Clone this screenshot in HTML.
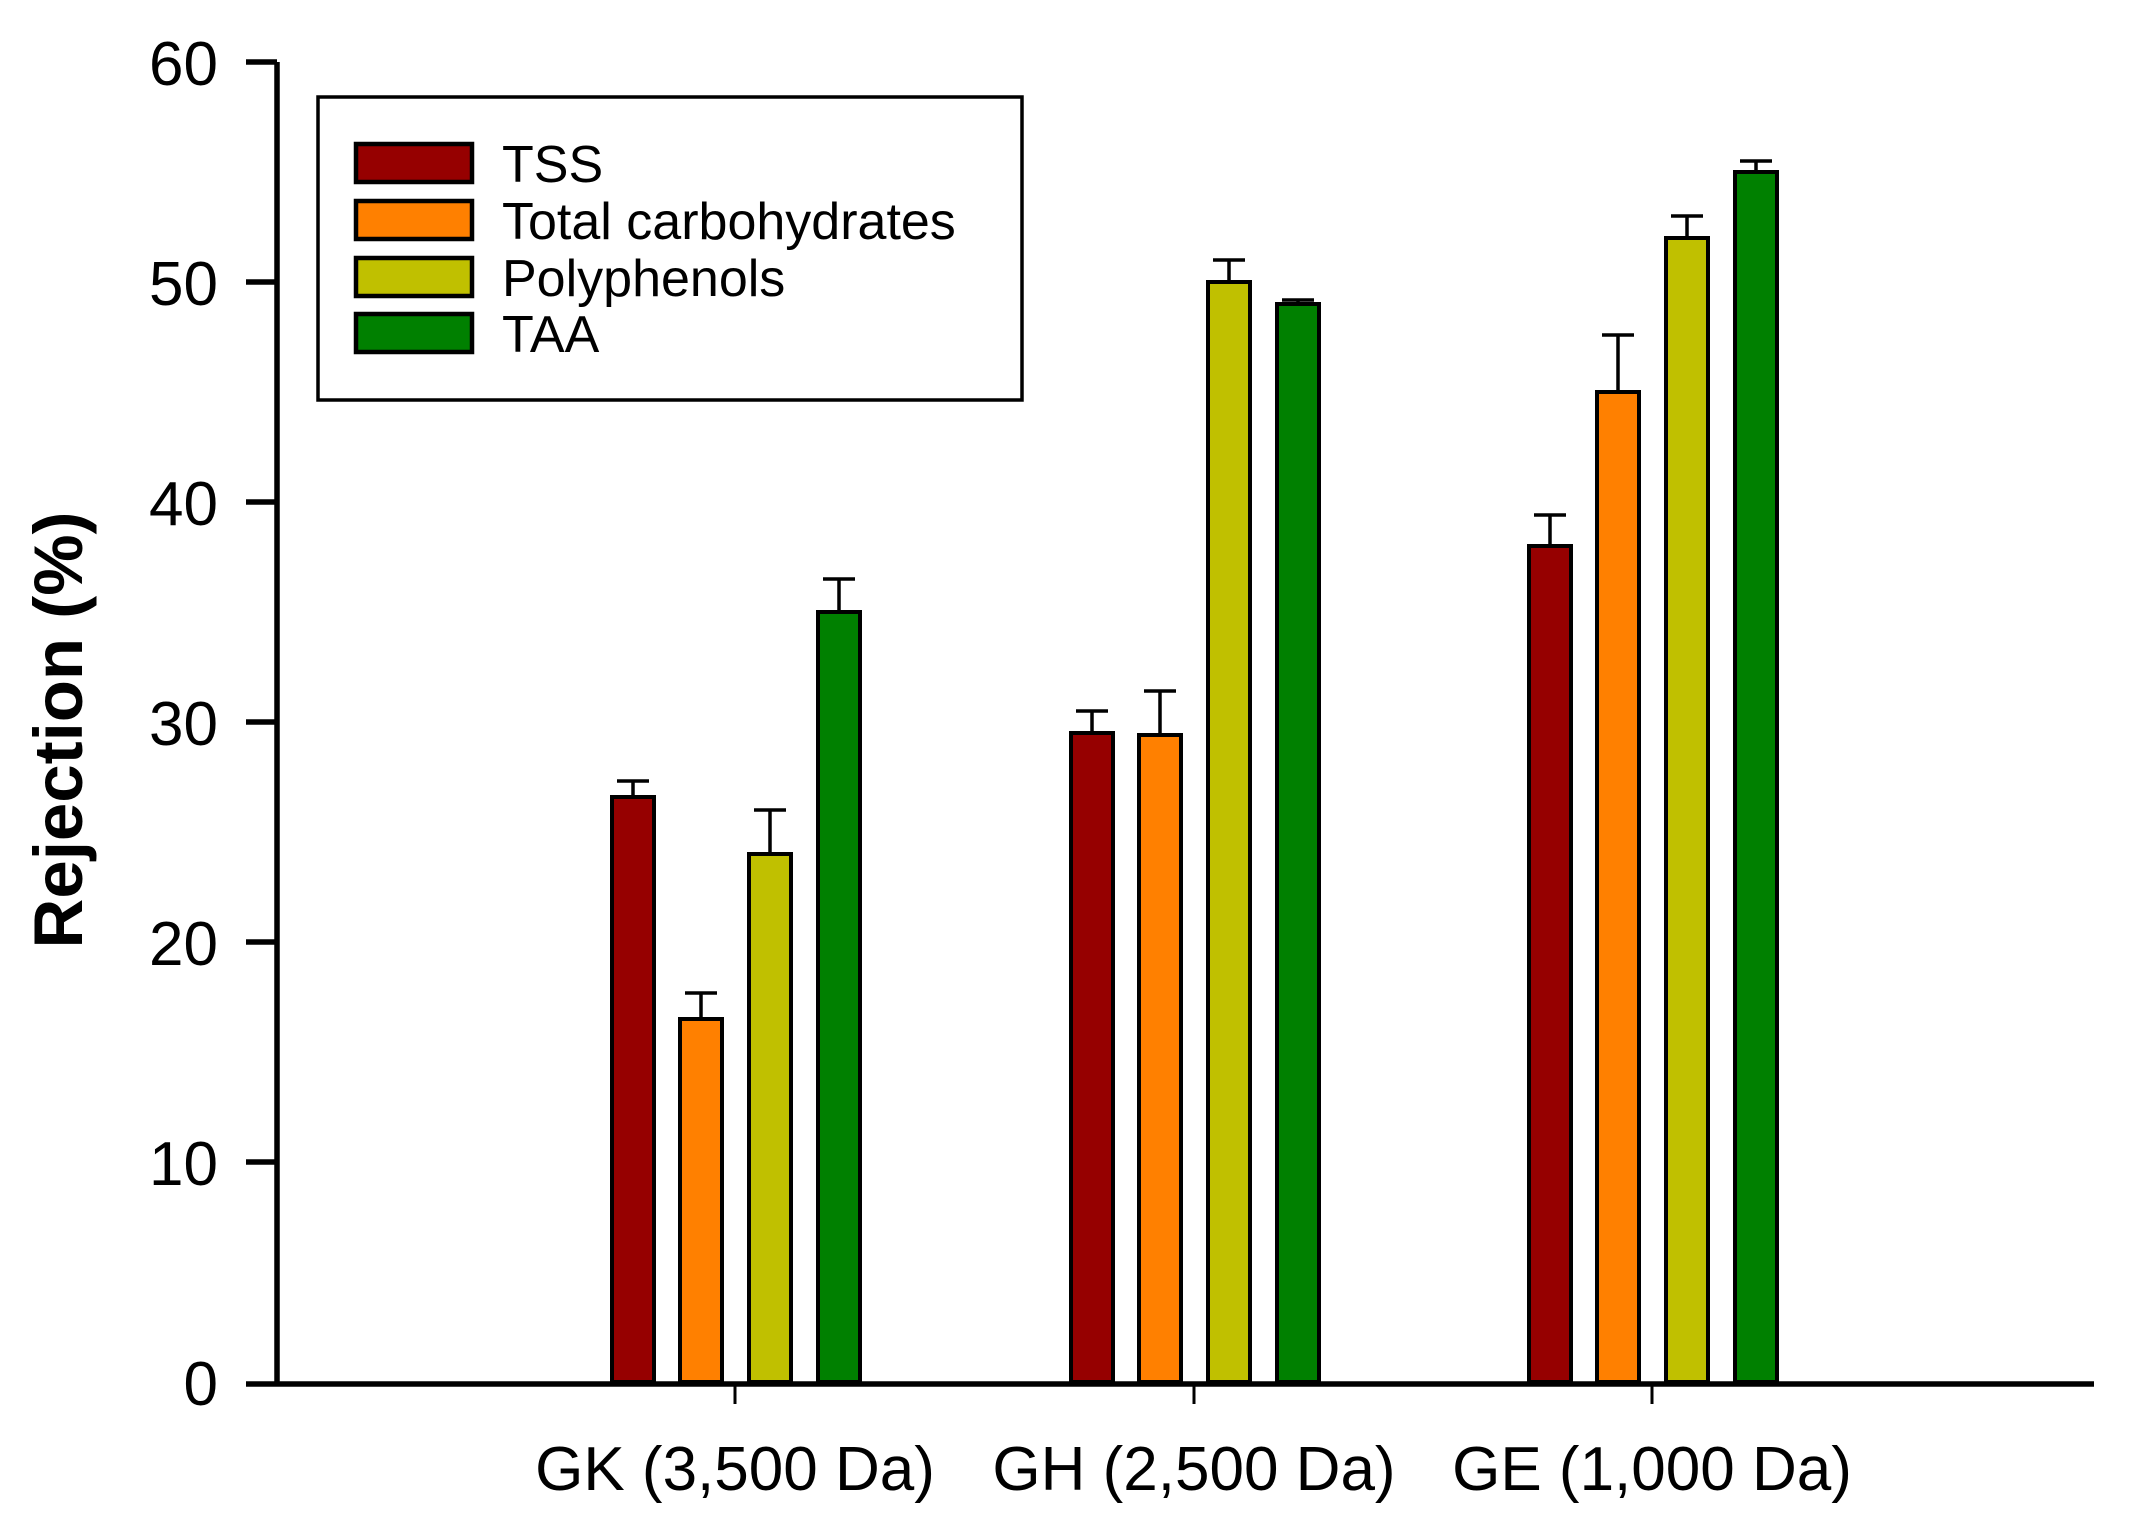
<!DOCTYPE html>
<html><head><style>body{margin:0;background:#fff}</style></head><body>
<svg width="2142" height="1531" xmlns="http://www.w3.org/2000/svg" font-family="Liberation Sans, Arial, sans-serif">
<rect width="2142" height="1531" fill="#fff"/>
<g stroke="#000" stroke-width="4">
<rect x="612" y="797" width="42" height="585" fill="#960000"/>
<rect x="680" y="1019" width="42" height="363" fill="#FF8000"/>
<rect x="749" y="854" width="42" height="528" fill="#C0C000"/>
<rect x="818" y="612" width="42" height="770" fill="#008000"/>
<rect x="1071" y="733" width="42" height="649" fill="#960000"/>
<rect x="1139" y="735" width="42" height="647" fill="#FF8000"/>
<rect x="1208" y="282" width="42" height="1100" fill="#C0C000"/>
<rect x="1277" y="304" width="42" height="1078" fill="#008000"/>
<rect x="1529" y="546" width="42" height="836" fill="#960000"/>
<rect x="1597" y="392" width="42" height="990" fill="#FF8000"/>
<rect x="1666" y="238" width="42" height="1144" fill="#C0C000"/>
<rect x="1735" y="172" width="42" height="1210" fill="#008000"/>
</g>
<g stroke="#000" stroke-width="3.5" fill="none">
<path d="M633 797V781M617 781H649"/>
<path d="M701 1019V993M685 993H717"/>
<path d="M770 854V810M754 810H786"/>
<path d="M839 612V579M823 579H855"/>
<path d="M1092 733V711M1076 711H1108"/>
<path d="M1160 735V691M1144 691H1176"/>
<path d="M1229 282V260M1213 260H1245"/>
<path d="M1298 304V300M1282 300H1314"/>
<path d="M1550 546V515M1534 515H1566"/>
<path d="M1618 392V335M1602 335H1634"/>
<path d="M1687 238V216M1671 216H1703"/>
<path d="M1756 172V161M1740 161H1772"/>
</g>
<g stroke="#000" stroke-width="5.5">
<line x1="277" y1="62" x2="277" y2="1384"/>
<line x1="246" y1="1384" x2="2094" y2="1384"/>
<line x1="246" y1="62" x2="277" y2="62"/>
<line x1="246" y1="282" x2="277" y2="282"/>
<line x1="246" y1="502" x2="277" y2="502"/>
<line x1="246" y1="722" x2="277" y2="722"/>
<line x1="246" y1="942" x2="277" y2="942"/>
<line x1="246" y1="1162" x2="277" y2="1162"/>
</g>
<g stroke="#000" stroke-width="3">
<line x1="735" y1="1384" x2="735" y2="1404"/>
<line x1="1194" y1="1384" x2="1194" y2="1404"/>
<line x1="1652" y1="1384" x2="1652" y2="1404"/>
</g>
<g font-size="62" text-anchor="end" fill="#000">
<text x="218" y="85">60</text>
<text x="218" y="305">50</text>
<text x="218" y="525">40</text>
<text x="218" y="745">30</text>
<text x="218" y="965">20</text>
<text x="218" y="1185">10</text>
<text x="218" y="1405">0</text>
</g>
<g font-size="62" text-anchor="middle" fill="#000">
<text x="735" y="1490">GK (3,500 Da)</text>
<text x="1194" y="1490">GH (2,500 Da)</text>
<text x="1652" y="1490">GE (1,000 Da)</text>
</g>
<text transform="translate(82,730) rotate(-90)" font-size="69" font-weight="bold" text-anchor="middle">Rejection (%)</text>
<rect x="318" y="97" width="704" height="303" fill="#fff" stroke="#000" stroke-width="3.5"/>
<g stroke="#000" stroke-width="4.5">
<rect x="356" y="144" width="116" height="38" fill="#960000"/>
<rect x="356" y="201" width="116" height="38" fill="#FF8000"/>
<rect x="356" y="258" width="116" height="38" fill="#C0C000"/>
<rect x="356" y="314" width="116" height="38" fill="#008000"/>
</g>
<g font-size="52" fill="#000">
<text x="502" y="182">TSS</text>
<text x="502" y="239">Total carbohydrates</text>
<text x="502" y="296">Polyphenols</text>
<text x="502" y="352">TAA</text>
</g>
</svg>
</body></html>
